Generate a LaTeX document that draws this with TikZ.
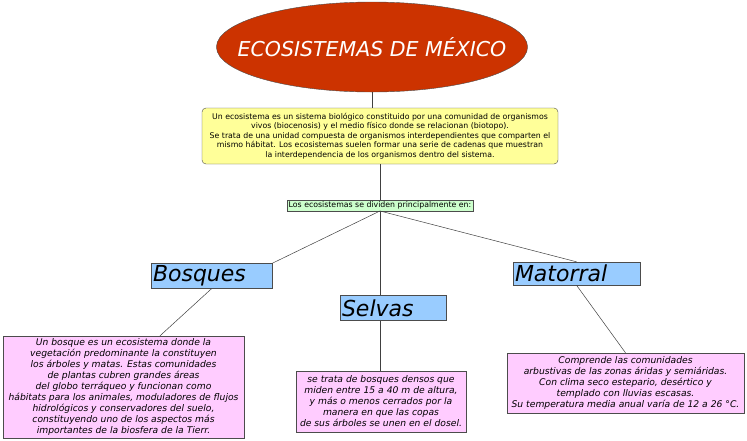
\documentclass[tikz,border=0pt]{standalone}
\usepackage{fontspec}
\setmainfont{DejaVu Sans}
\usetikzlibrary{shapes.geometric}
\definecolor{titlered}{HTML}{CC3300}
\definecolor{noteyellow}{HTML}{FFFF99}
\definecolor{splitgreen}{HTML}{CCFFCC}
\definecolor{typeblue}{HTML}{99CCFF}
\definecolor{descpink}{HTML}{FFCCFF}
\tikzset{
  txt/.style={font=\fontsize{7.8}{9.4}\selectfont, align=center},
  descbox/.style={draw=black!70, fill=descpink, align=center, font=\fontsize{9.2}{11}\selectfont\itshape, inner sep=1pt},
  typebox/.style={draw=black!70, fill=typeblue, font=\fontsize{22}{22}\selectfont\itshape, inner sep=2pt, text width=#1, minimum height=25pt},
  link/.style={draw=black!75, line width=0.5pt}
}
\begin{document}
\begin{tikzpicture}[x=1pt, y=-1pt]
    % 1. Canvas
    \useasboundingbox (0,0) rectangle (747,440);

    % 2. Title and explanation
    \node[ellipse, draw=black!70, fill=titlered, minimum width=306pt, minimum height=90pt,
          inner xsep=0pt, inner ysep=0pt, text=white, font=\fontsize{20.5}{20.5}\selectfont\itshape]
          (title) at (372,47) {\makebox[220pt]{ECOSISTEMAS DE MÉXICO}};
    \node[draw=black!70, fill=noteyellow, rounded corners=4pt, txt, minimum width=356pt,
          minimum height=56pt, inner sep=1pt] (intro) at (380,136)
          {Un ecosistema es un sistema biológico constituido por una comunidad de organismos\\
           vivos (biocenosis) y el medio físico donde se relacionan (biotopo).\\
           Se trata de una unidad compuesta de organismos interdependientes que comparten el\\
           mismo hábitat. Los ecosistemas suelen formar una serie de cadenas que muestran\\
           la interdependencia de los organismos dentro del sistema.};
    \node[draw=black!70, fill=splitgreen, txt, inner sep=1.5pt] (split) at (380,205.5)
          {Los ecosistemas se dividen principalmente en:};

    % 3. The three kinds
    \node[typebox=117pt] (bosques) at (211.5,276) {Bosques};
    \node[typebox=102pt] (selvas) at (393,308) {Selvas};
    \node[typebox=123pt, minimum height=23pt] (matorral) at (576.5,273.5) {Matorral};

    % 4. Descriptions
    \node[descbox, minimum width=241pt, minimum height=102pt] (bosquesdesc) at (123.5,387)
          {Un bosque es un ecosistema donde la\\
           vegetación predominante la constituyen\\
           los árboles y matas. Estas comunidades\\
           de plantas cubren grandes áreas\\
           del globo terráqueo y funcionan como\\
           hábitats para los animales, moduladores de flujos\\
           hidrológicos y conservadores del suelo,\\
           constituyendo uno de los aspectos más\\
           importantes de la biosfera de la Tierr.};
    \node[descbox, minimum width=170pt, minimum height=61pt] (selvasdesc) at (381,401.5)
          {se trata de bosques densos que\\
           miden entre 15 a 40 m de altura,\\
           y más o menos cerrados por la\\
           manera en que las copas\\
           de sus árboles se unen en el dosel.};
    \node[descbox, minimum width=237pt, minimum height=60pt] (matorraldesc) at (625.5,383)
          {Comprende las comunidades\\
           arbustivas de las zonas áridas y semiáridas.\\
           Con clima seco estepario, desértico y\\
           templado con lluvias escasas.\\
           Su temperatura media anual varía de 12 a 26 °C.};

    % 5. Connectors
    \draw[link] (title.south) -- (intro.north -| title.south);
    \draw[link] (intro.south) -- (split.north);
    \draw[link] (split.south) -- (bosques.north east);
    \draw[link] (split.south) -- (selvas.north -| split.south);
    \draw[link] (split.south) -- (matorral.north);
    \draw[link] (bosques.south) -- (bosquesdesc.north east -| 160,0);
    \draw[link] (selvas.south -| split.south) -- (selvasdesc.north -| split.south);
    \draw[link] (matorral.south) -- (matorraldesc.north);
\end{tikzpicture}
\end{document}
